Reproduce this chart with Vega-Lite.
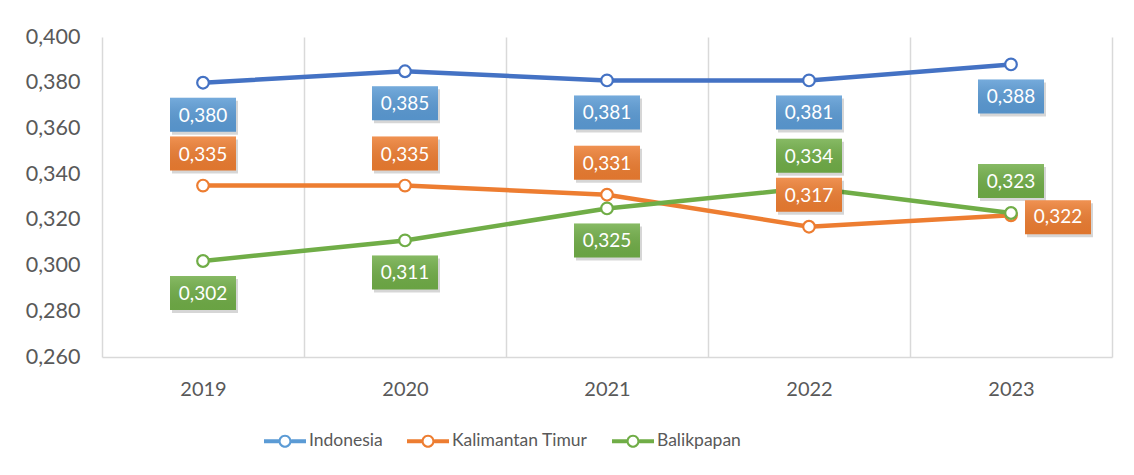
{
  "$schema": "https://vega.github.io/schema/vega-lite/v6.json",
  "width": 1010,
  "height": 320,
  "autosize": {"type": "none"},
  "padding": {"left": 102, "top": 37, "right": 22, "bottom": 118},
  "background": "white",
  "config": {
    "view": {"stroke": null},
    "font": "Lato",
    "text": {"font": "Lato"}
  },
  "data": {
    "values": [
      {"series": "Indonesia", "year": "2019", "value": 0.380},
      {"series": "Indonesia", "year": "2020", "value": 0.385},
      {"series": "Indonesia", "year": "2021", "value": 0.381},
      {"series": "Indonesia", "year": "2022", "value": 0.381},
      {"series": "Indonesia", "year": "2023", "value": 0.388},
      {"series": "Kalimantan Timur", "year": "2019", "value": 0.335},
      {"series": "Kalimantan Timur", "year": "2020", "value": 0.335},
      {"series": "Kalimantan Timur", "year": "2021", "value": 0.331},
      {"series": "Kalimantan Timur", "year": "2022", "value": 0.317},
      {"series": "Kalimantan Timur", "year": "2023", "value": 0.322},
      {"series": "Balikpapan", "year": "2019", "value": 0.302},
      {"series": "Balikpapan", "year": "2020", "value": 0.311},
      {"series": "Balikpapan", "year": "2021", "value": 0.325},
      {"series": "Balikpapan", "year": "2022", "value": 0.334},
      {"series": "Balikpapan", "year": "2023", "value": 0.323}
    ]
  },
  "transform": [
    {"calculate": "replace(format(datum.value, '.3f'), '.', ',')", "as": "label"}
  ],
  "encoding": {
    "x": {
      "field": "year",
      "type": "ordinal",
      "scale": {"type": "band", "paddingInner": 0, "paddingOuter": 0},
      "axis": {
        "title": null,
        "labelAngle": 0,
        "labelFontSize": 20,
        "labelColor": "#595959",
        "labelFont": "Lato",
        "labelPadding": 22,
        "ticks": false,
        "tickBand": "extent",
        "grid": true,
        "gridColor": "#d9d9d9",
        "gridWidth": 1.5,
        "domainColor": "#d9d9d9",
        "domainWidth": 1.5
      }
    },
    "y": {
      "field": "value",
      "type": "quantitative",
      "scale": {"domain": [0.26, 0.4], "nice": false, "zero": false},
      "axis": {
        "title": null,
        "values": [0.26, 0.28, 0.3, 0.32, 0.34, 0.36, 0.38, 0.4],
        "labelExpr": "replace(format(datum.value, '.3f'), '.', ',')",
        "labelFontSize": 21.5,
        "labelColor": "#595959",
        "labelFont": "Lato",
        "labelPadding": 22,
        "domain": false,
        "ticks": false,
        "grid": false
      }
    }
  },
  "layer": [
    {
      "mark": {
        "type": "line",
        "strokeWidth": 4.5,
        "point": {"filled": false, "fill": "white", "size": 135, "strokeWidth": 2.2}
      },
      "encoding": {
        "stroke": {
          "field": "series",
          "type": "nominal",
          "sort": ["Indonesia", "Kalimantan Timur", "Balikpapan"],
          "scale": {
            "domain": ["Indonesia", "Kalimantan Timur", "Balikpapan"],
            "range": ["#4472C4", "#ED7D31", "#70AD47"]
          },
          "legend": {
            "orient": "none",
            "legendX": 162,
            "legendY": 383,
            "direction": "horizontal",
            "title": null,
            "symbolType": "M-1,-0.095H-0.3V0.095H-1Z M0.3,-0.095H1V0.095H0.3Z M-0.31,0A0.31,0.31,0,1,1,0.31,0A0.31,0.31,0,1,1,-0.31,0Z M-0.21,0A0.21,0.21,0,1,0,0.21,0A0.21,0.21,0,1,0,-0.21,0Z",
            "symbolSize": 1764,
            "symbolStrokeWidth": 0,
            "labelFontSize": 17.5,
            "labelFont": "Lato",
            "labelColor": "#595959",
            "labelOffset": 3,
            "columnPadding": 24
          }
        },
        "order": {"field": "year"}
      }
    },
    {
      "transform": [
        {"filter": "datum.series == 'Indonesia' || (datum.series == 'Balikpapan' && toNumber(datum.year) <= 2021)"}
      ],
      "layer": [
        {
          "mark": {"type": "rect", "width": 66, "xOffset": 2, "yOffset": 18, "y2Offset": 52, "color": "rgba(0,0,0,0.16)"},
          "encoding": {"y2": {"field": "value"}}
        },
        {
          "mark": {"type": "rect", "width": 66, "yOffset": 15, "y2Offset": 49},
          "encoding": {
            "y2": {"field": "value"},
            "fill": {
              "field": "series",
              "type": "nominal",
              "scale": {"domain": ["Indonesia", "Kalimantan Timur", "Balikpapan"], "range": ["#5B9BD5", "#ED7D31", "#70AD47"]},
              "legend": null
            }
          }
        },
        {
          "mark": {
            "type": "rect", "width": 66, "yOffset": 15, "y2Offset": 49,
            "fill": {"gradient": "linear", "x1": 0, "y1": 0, "x2": 0, "y2": 1,
              "stops": [{"offset": 0, "color": "rgba(255,255,255,0.16)"}, {"offset": 1, "color": "rgba(0,0,0,0.06)"}]}
          },
          "encoding": {"y2": {"field": "value"}}
        },
        {
          "mark": {"type": "text", "dy": 33, "fontSize": 19, "color": "white", "font": "Lato", "baseline": "middle", "align": "center"},
          "encoding": {"text": {"field": "label"}}
        }
      ]
    },
    {
      "transform": [
        {"filter": "(datum.series == 'Kalimantan Timur' && toNumber(datum.year) < 2023) || (datum.series == 'Balikpapan' && toNumber(datum.year) >= 2022)"}
      ],
      "layer": [
        {
          "mark": {"type": "rect", "width": 66, "xOffset": 2, "yOffset": -46, "y2Offset": -12, "color": "rgba(0,0,0,0.16)"},
          "encoding": {"y2": {"field": "value"}}
        },
        {
          "mark": {"type": "rect", "width": 66, "yOffset": -49, "y2Offset": -15},
          "encoding": {
            "y2": {"field": "value"},
            "fill": {"field": "series", "type": "nominal", "legend": null}
          }
        },
        {
          "mark": {
            "type": "rect", "width": 66, "yOffset": -49, "y2Offset": -15,
            "fill": {"gradient": "linear", "x1": 0, "y1": 0, "x2": 0, "y2": 1,
              "stops": [{"offset": 0, "color": "rgba(255,255,255,0.16)"}, {"offset": 1, "color": "rgba(0,0,0,0.06)"}]}
          },
          "encoding": {"y2": {"field": "value"}}
        },
        {
          "mark": {"type": "text", "dy": -31, "fontSize": 19, "color": "white", "font": "Lato", "baseline": "middle", "align": "center"},
          "encoding": {"text": {"field": "label"}}
        }
      ]
    },
    {
      "transform": [
        {"filter": "datum.series == 'Kalimantan Timur' && toNumber(datum.year) == 2023"}
      ],
      "layer": [
        {
          "mark": {"type": "rect", "width": 66, "xOffset": 49, "yOffset": -12, "y2Offset": 22, "color": "rgba(0,0,0,0.16)"},
          "encoding": {"y2": {"field": "value"}}
        },
        {
          "mark": {"type": "rect", "width": 66, "xOffset": 47, "yOffset": -15, "y2Offset": 19},
          "encoding": {
            "y2": {"field": "value"},
            "fill": {"field": "series", "type": "nominal", "legend": null}
          }
        },
        {
          "mark": {
            "type": "rect", "width": 66, "xOffset": 47, "yOffset": -15, "y2Offset": 19,
            "fill": {"gradient": "linear", "x1": 0, "y1": 0, "x2": 0, "y2": 1,
              "stops": [{"offset": 0, "color": "rgba(255,255,255,0.16)"}, {"offset": 1, "color": "rgba(0,0,0,0.06)"}]}
          },
          "encoding": {"y2": {"field": "value"}}
        },
        {
          "mark": {"type": "text", "dx": 47, "dy": 2, "fontSize": 19, "color": "white", "font": "Lato", "baseline": "middle", "align": "center"},
          "encoding": {"text": {"field": "label"}}
        }
      ]
    }
  ]
}
